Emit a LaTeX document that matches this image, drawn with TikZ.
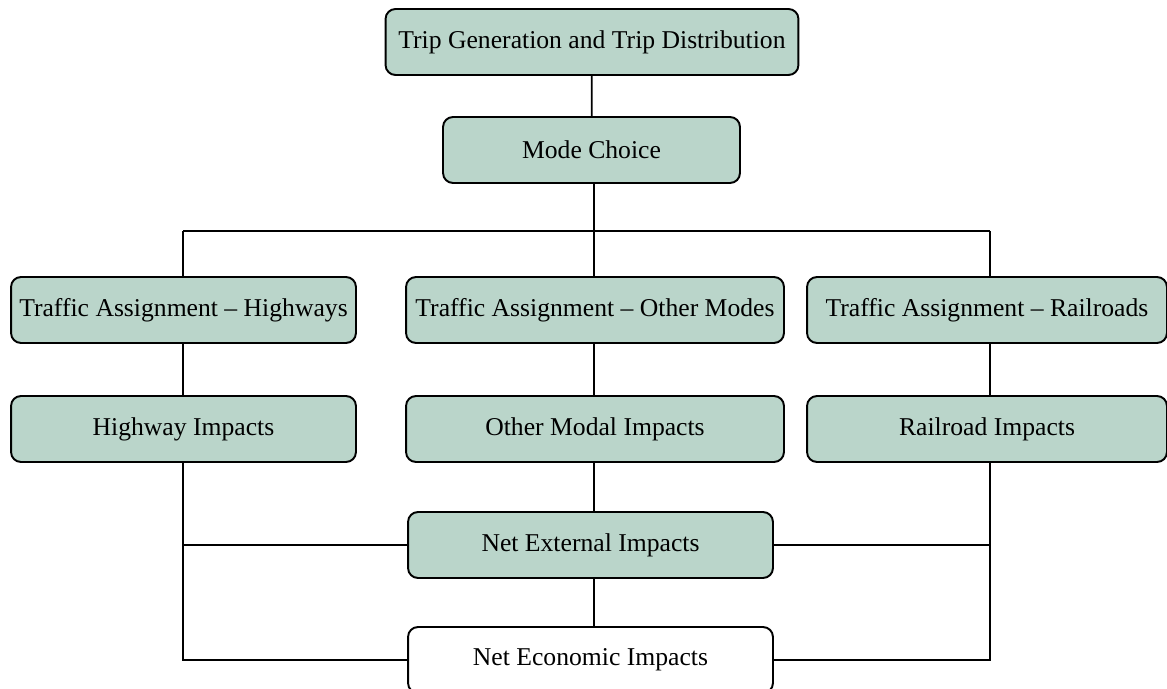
\documentclass[tikz,border=0pt]{standalone}
\usepackage{fontspec}
\setmainfont{Liberation Serif}
\definecolor{boxgreen}{RGB}{186,213,202}
\tikzset{
  stage/.style={draw, line width=1.1pt, rounded corners=0.2cm, fill=boxgreen,
    minimum height=1.32cm, inner sep=0pt, font=\fontsize{14.6}{17}\selectfont},
  plain/.style={stage, fill=white},
  link/.style={line width=1pt}
}
\begin{document}
\begin{tikzpicture}[x=0.02cm,y=-0.02cm]
\useasboundingbox (0,0) rectangle (1167,689);

% top of the chain
\node[stage, minimum width=8.26cm] (trip) at (592,42) {Trip Generation and Trip Distribution};
\node[stage, minimum width=5.94cm] (mode) at (591.5,150) {Mode Choice};

% assignment by mode
\node[stage, minimum width=6.9cm] (tah) at (183.5,310) {Traffic Assignment -- Highways};
\node[stage, minimum width=7.56cm] (tao) at (595,310) {Traffic Assignment -- Other Modes};
\node[stage, minimum width=7.2cm] (tar) at (987,310) {Traffic Assignment -- Railroads};

% impacts
\node[stage, minimum width=6.9cm] (hi) at (183.5,429) {Highway Impacts};
\node[stage, minimum width=7.56cm] (omi) at (595,429) {Other Modal Impacts};
\node[stage, minimum width=7.2cm] (ri) at (987,429) {Railroad Impacts};

\node[stage, minimum width=7.3cm] (nei) at (590.5,545) {Net External Impacts};
\node[plain, minimum width=7.3cm] (neco) at (590.5,660) {Net Economic Impacts};

% bus under mode choice
\coordinate (busL) at (183,231);
\coordinate (busR) at (990,231);

\draw[link] (trip) -- (mode);
\draw[link] (mode.south -| 594,0) -- (594,231);
\draw[link] (busL) -- (busR);
\draw[link] (busL) -- (busL |- tah.north);
\draw[link] (594,231) -- (tao.north -| 594,0);
\draw[link] (busR) -- (busR |- tar.north);

\draw[link] (tah.south -| busL) -- (busL |- hi.north);
\draw[link] (tao.south -| 594,0) -- (omi.north -| 594,0);
\draw[link] (tar.south -| busR) -- (busR |- ri.north);

% collecting lines
\draw[link] (hi.south -| busL) -- (busL |- neco.west) -- (neco.west);
\draw[link] (ri.south -| busR) -- (busR |- neco.east) -- (neco.east);
\draw[link] (busL |- nei.west) -- (nei.west);
\draw[link] (nei.east) -- (busR |- nei.east);
\draw[link] (omi.south -| 594,0) -- (nei.north -| 594,0);
\draw[link] (nei.south -| 594,0) -- (neco.north -| 594,0);
\end{tikzpicture}
\end{document}
